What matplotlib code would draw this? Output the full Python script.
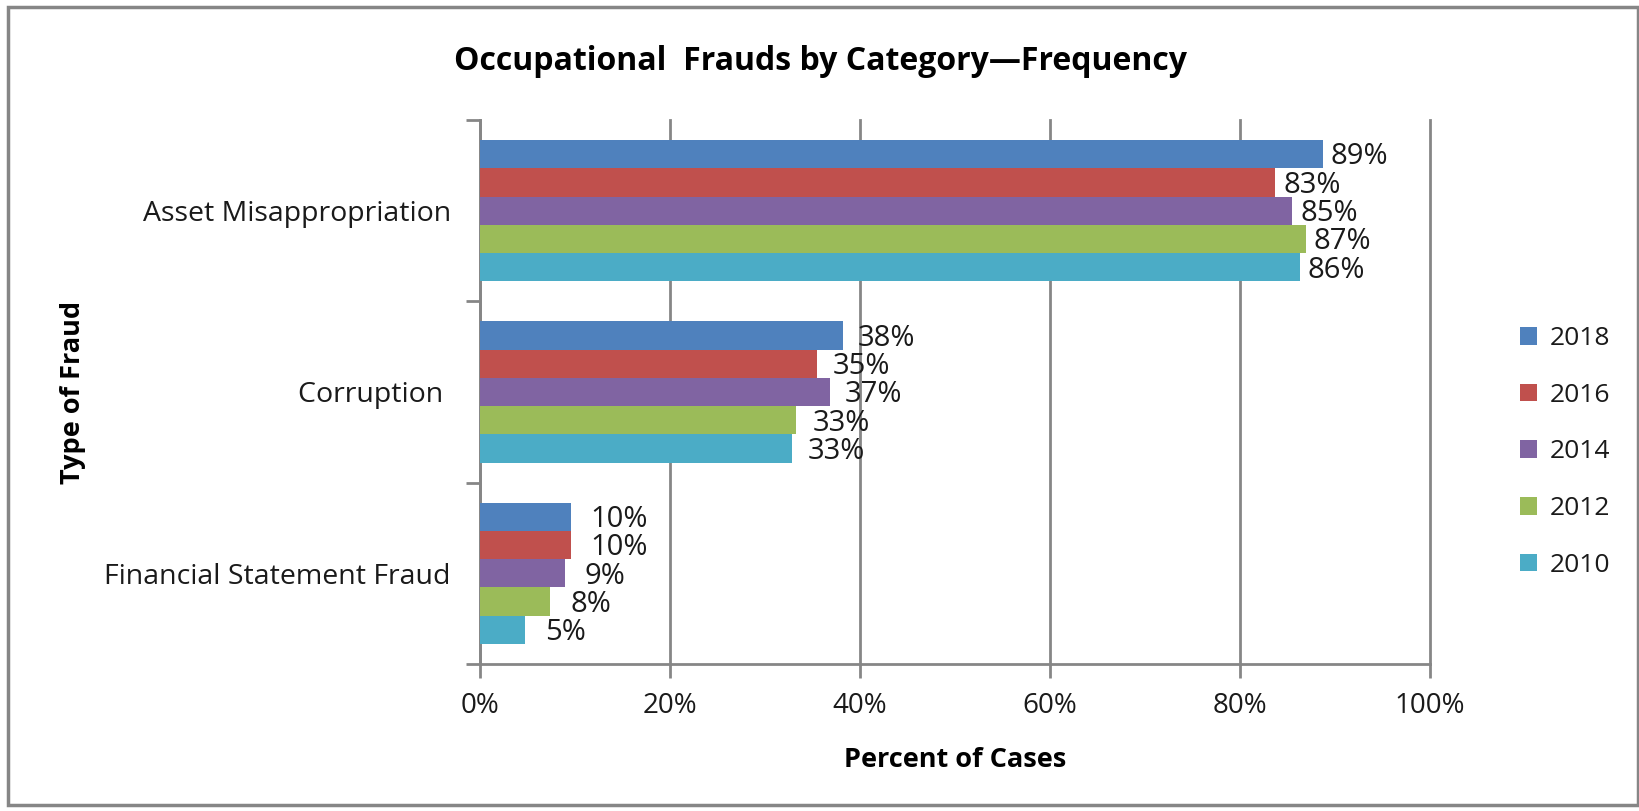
import matplotlib
matplotlib.use("Agg")
import matplotlib.pyplot as plt
from matplotlib.patches import Rectangle
import numpy as np

plt.rcParams['font.family'] = ['Open Sans', 'DejaVu Sans']

categories = ["Asset Misappropriation", "Corruption ", "Financial Statement Fraud"]
years = ["2018", "2016", "2014", "2012", "2010"]
values = {
    "2018": [88.7, 38.2, 9.6],
    "2016": [83.7, 35.5, 9.6],
    "2014": [85.5, 36.8, 8.9],
    "2012": [86.9, 33.3, 7.4],
    "2010": [86.3, 32.8, 4.7],
}
labels = {
    "2018": ["89%", "38%", "10%"],
    "2016": ["83%", "35%", "10%"],
    "2014": ["85%", "37%", "9%"],
    "2012": ["87%", "33%", "8%"],
    "2010": ["86%", "33%", "5%"],
}
colors = ["#4F81BD", "#C0504D", "#8064A2", "#9BBB59", "#4BACC6"]
xticks = [0, 20, 40, 60, 80, 100]

fig = plt.figure(figsize=(16.4, 8.11), dpi=100)
ax = fig.add_axes([480/1640, 1-664/811, 950/1640, 544/811])

n = len(years)
bh = 0.78 / n
centers = np.arange(len(categories))
for i, (yr, col) in enumerate(zip(years, colors)):
    ypos = centers - 0.39 + bh * (i + 0.5)
    bars = ax.barh(ypos, values[yr], height=bh, color=col, label=yr, zorder=3)
    for b, lab in zip(bars, labels[yr]):
        w = b.get_width()
        off_pt = (21 - 0.15 * w) * 0.72
        ax.annotate(lab, (w, b.get_y() + b.get_height()/2),
                    xytext=(off_pt, -2), textcoords="offset points",
                    ha="left", va="center", fontsize=21, color="#1a1a1a")

ax.set_ylim(len(categories) - 0.5, -0.5)
ax.set_xlim(0, 100)
ax.set_yticks([-0.5, 0.5, 1.5, 2.5])
ax.set_yticklabels([])
ax.set_yticks(centers, minor=True)
ax.set_yticklabels(categories, minor=True, fontsize=20.5, color="#1a1a1a")
ax.tick_params(axis="y", which="minor", length=0, pad=21)
ax.tick_params(axis="y", which="major", length=10, color="#868686", width=2)
ax.set_xticks(xticks)
ax.set_xticklabels([f"{t}%" for t in xticks], fontsize=20, color="#1a1a1a")
ax.tick_params(axis="x", length=10, color="#868686", width=2, pad=10)
ax.xaxis.grid(True, color="#868686", linewidth=2, zorder=0)
for gl in ax.xaxis.get_gridlines():
    gl.set_clip_on(False)
for s in ["top", "right"]:
    ax.spines[s].set_visible(False)
for s in ["left", "bottom"]:
    ax.spines[s].set_color("#868686")
    ax.spines[s].set_linewidth(2)

fig.text(821/1640, 1-61/811, "Occupational  Frauds by Category\u2014Frequency",
         ha="center", va="center", fontsize=23, fontweight="bold")
fig.text(73/1640, 1-392/811, "Type of Fraud", rotation=90, ha="center", va="center",
         fontsize=19.5, fontweight="bold")
fig.text(955/1640, 1-760/811, "Percent of Cases", ha="center", va="center",
         fontsize=19.5, fontweight="bold")

leg = fig.legend(loc="center left", bbox_to_anchor=(1496/1640, 1-452/811),
                 frameon=False, fontsize=19, handlelength=0.65, handleheight=0.65,
                 handletextpad=0.5, labelspacing=1.2)
for t in leg.get_texts():
    t.set_color("#1a1a1a")

fig.patches.append(Rectangle((8/1640, 6/811), 1630/1640, 798/811, transform=fig.transFigure,
                             fill=False, edgecolor="#868686", linewidth=2.5))

fig.savefig("out.png", dpi=100)
